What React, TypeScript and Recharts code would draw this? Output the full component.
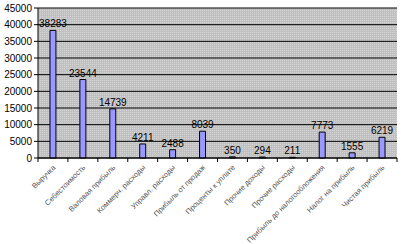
import React from 'react';
import { BarChart, Bar, XAxis, YAxis, CartesianGrid, LabelList } from 'recharts';

const categories = [
  'Выручка',
  'Себестоимость',
  'Валовая прибыль',
  'Коммерч. расходы',
  'Управл. расходы',
  'Прибыль от продаж',
  'Проценты к уплате',
  'Прочие доходы',
  'Прочие расходы',
  'Прибыль до налогообложения',
  'Налог на прибыль',
  'Чистая прибыль',
];
const values = [38283, 23544, 14739, 4211, 2488, 8039, 350, 294, 211, 7773, 1555, 6219];
const yTicks = [0, 5000, 10000, 15000, 20000, 25000, 30000, 35000, 40000, 45000];

const data = categories.map((name, i) => ({ name, value: values[i] }));

const W = 401;
const H = 244;
const LEFT = 38;
const RIGHT = 4;
const band = (W - LEFT - RIGHT) / categories.length;
const font = '"Liberation Sans", Arial, sans-serif';

const XTick = (props: any) => {
  const { x, y, payload, index } = props;
  const last = index === categories.length - 1;
  return (
    <g>
      <line x1={x - band / 2} y1={y - 8} x2={x - band / 2} y2={y - 4} stroke="#000" />
      {last && <line x1={x + band / 2} y1={y - 8} x2={x + band / 2} y2={y - 4} stroke="#000" />}
      <text
        x={x + 3}
        y={y + 2}
        transform={`rotate(-45 ${x + 3} ${y + 2})`}
        textAnchor="end"
        fontSize={7.5}
        fill="#555"
        fontFamily={font}
      >
        {payload.value}
      </text>
    </g>
  );
};

export default function App() {
  return (
    <div style={{ position: 'absolute', left: 0, top: 0, width: W, height: H, background: '#fff' }}>
      <BarChart
        width={W}
        height={H}
        data={data}
        margin={{ top: 8, right: RIGHT, left: 0, bottom: 0 }}
        barCategoryGap="60%"
      >
        <defs>
          <pattern id="dots" width="2" height="2" patternUnits="userSpaceOnUse">
            <rect width="2" height="2" fill="#c0c0c0" />
            <rect width="1" height="1" fill="#d4d4d4" />
          </pattern>
        </defs>
        <CartesianGrid vertical={false} stroke="#000" strokeWidth={1} fill="url(#dots)" horizontalValues={yTicks} />
        <XAxis
          dataKey="name"
          interval={0}
          height={86}
          tickLine={false}
          axisLine={{ stroke: '#000' }}
          tick={<XTick />}
        />
        <YAxis
          width={LEFT}
          domain={[0, 45000]}
          ticks={yTicks}
          interval={0}
          axisLine={{ stroke: '#000' }}
          tickLine={{ stroke: '#000' }}
          tickSize={4}
          tick={{ fontSize: 10, fill: '#000', fontFamily: font }}
        />
        <Bar dataKey="value" fill="#9999ff" stroke="#000" strokeWidth={1} isAnimationActive={false}>
          <LabelList dataKey="value" position="top" offset={3} fontSize={10} fill="#000" fontFamily={font} />
        </Bar>
      </BarChart>
    </div>
  );
}
